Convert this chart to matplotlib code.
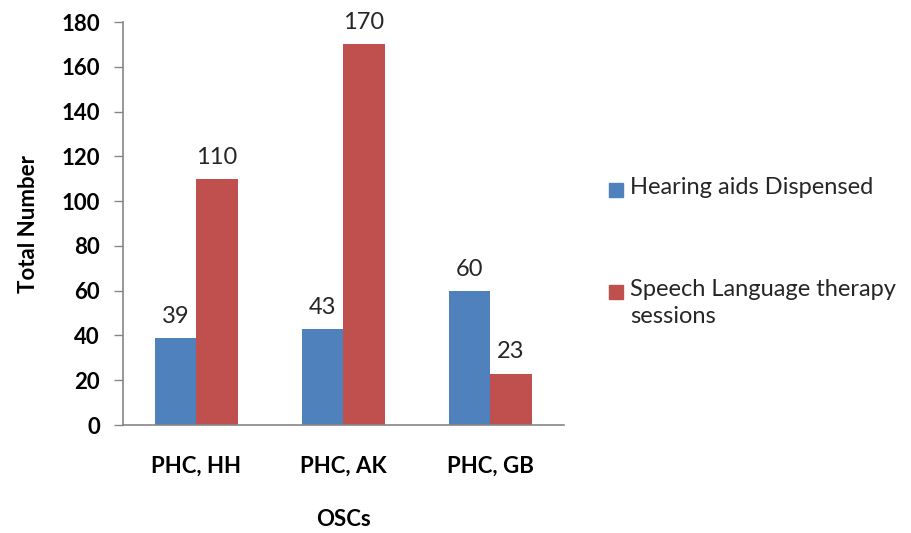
import numpy as np
import matplotlib.pyplot as plt
from matplotlib.patches import Rectangle

plt.rcParams['font.family'] = ['Lato', 'DejaVu Sans']

categories = ['PHC, HH', 'PHC, AK', 'PHC, GB']
hearing_aids = [39, 43, 60]
speech_sessions = [110, 170, 23]
series_names = ['Hearing aids Dispensed', 'Speech Language therapy\nsessions']
colors = ['#4F81BD', '#C0504D']
yticks = [0, 20, 40, 60, 80, 100, 120, 140, 160, 180]

fig = plt.figure(figsize=(9.11, 5.33), dpi=100)
ax = fig.add_axes([0.135, 0.2026, 0.484, 0.756])

x = np.arange(len(categories))
w = 0.28
bars1 = ax.bar(x - w / 2, hearing_aids, w, color=colors[0])
bars2 = ax.bar(x + w / 2, speech_sessions, w, color=colors[1])

for bars, vals in ((bars1, hearing_aids), (bars2, speech_sessions)):
    for b, v in zip(bars, vals):
        ax.annotate(str(v), (b.get_x() + b.get_width() / 2, v),
                    xytext=(0, 8), textcoords='offset points',
                    ha='center', va='bottom', fontsize=17, color='#262626')

ax.set_xlim(-0.5, 2.5)
ax.set_ylim(0, 180)
ax.set_yticks(yticks)
ax.set_xticks(x)
ax.set_xticklabels(categories, fontsize=16, fontweight='bold')
ax.tick_params(axis='y', labelsize=16, length=6.5, width=1, color='#868686', pad=10)
for lbl in ax.get_yticklabels():
    lbl.set_fontweight('bold')
ax.tick_params(axis='x', length=0, pad=22)

for s in ('top', 'right'):
    ax.spines[s].set_visible(False)
for s in ('left', 'bottom'):
    ax.spines[s].set_color('#868686')
    ax.spines[s].set_linewidth(1.2)

ax.set_ylabel('Total Number', fontsize=16, fontweight='bold', labelpad=16)
ax.set_xlabel('OSCs', fontsize=16, fontweight='bold', labelpad=23)

# legend, laid out like the original (marker aligned with first line)
leg_y = [190, 292]
for name, c, yy in zip(series_names, colors, leg_y):
    fy = 1 - yy / 533
    fig.add_artist(Rectangle((609 / 911, fy - 7 / 533), 14 / 911, 14 / 533,
                             transform=fig.transFigure, color=c))
    fig.text(630 / 911, fy + 13 / 533, name, fontsize=17, color='#262626',
             ha='left', va='top', linespacing=1.35)

fig.savefig('out.png', dpi=100)
